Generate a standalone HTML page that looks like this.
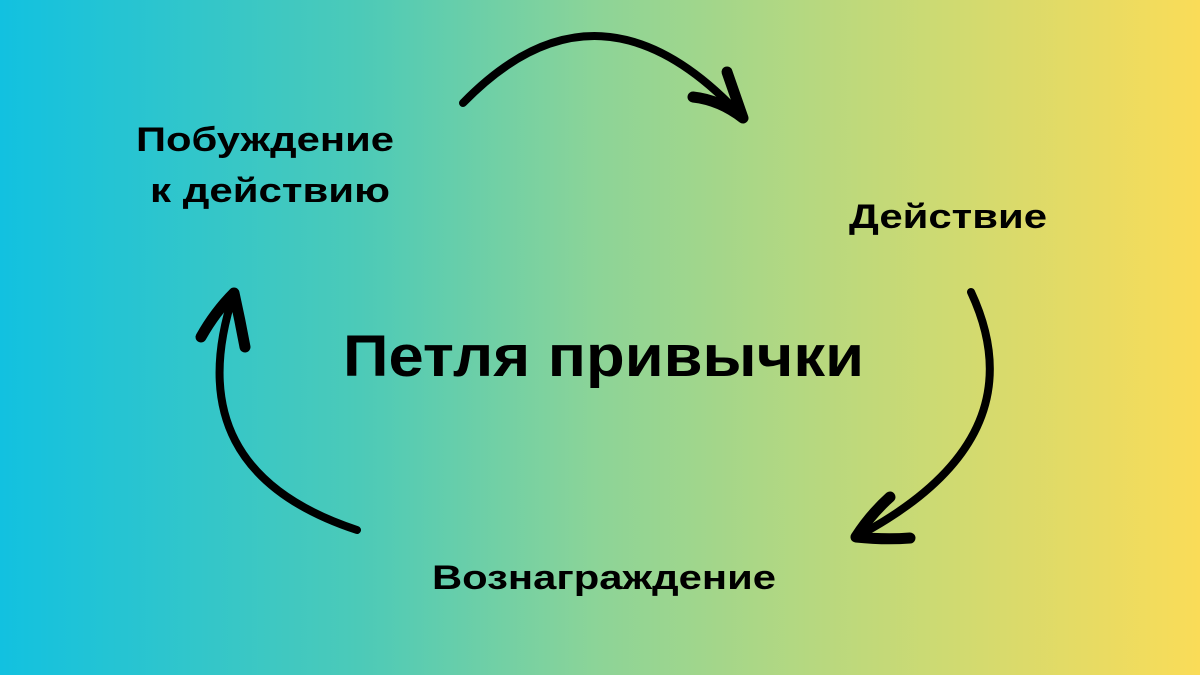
<!DOCTYPE html>
<html><head><meta charset="utf-8"><style>
html,body{margin:0;padding:0;}
body{width:1200px;height:675px;overflow:hidden;background:linear-gradient(90deg,#12c1e0 0%,#4ccab8 30%,#8dd497 50%,#c0d97a 72%,#fadc58 100%);}
svg{position:absolute;left:0;top:0;}
text{font-family:"Liberation Sans",sans-serif;font-weight:bold;fill:#000;}
</style></head><body>
<svg width="1200" height="675" viewBox="0 0 1200 675">
<g fill="none" stroke="#000" stroke-width="8" stroke-linecap="round" stroke-linejoin="round">
<path d="M463,103 Q600,-38 743,118"/>
<path d="M693,97 Q720,100 743,118 L727,72" stroke-width="11"/>
<path d="M971,292 Q1040,440 856,537"/>
<path d="M890,497 Q870,515 856,537 Q885,540 910,538" stroke-width="11"/>
<path d="M357,530 Q175,470 234,293"/>
<path d="M201,337 Q215,312 234,293 Q240,320 245,347" stroke-width="11"/>
</g>
<text x="136" y="151" font-size="34" textLength="258" lengthAdjust="spacingAndGlyphs">Побуждение</text>
<text x="150" y="202" font-size="34" textLength="240" lengthAdjust="spacingAndGlyphs">к действию</text>
<text x="849" y="228" font-size="34" textLength="198" lengthAdjust="spacingAndGlyphs">Действие</text>
<text x="343" y="376" font-size="58" textLength="521" lengthAdjust="spacingAndGlyphs">Петля привычки</text>
<text x="432" y="589" font-size="34" textLength="344" lengthAdjust="spacingAndGlyphs">Вознаграждение</text>
</svg>
</body></html>
